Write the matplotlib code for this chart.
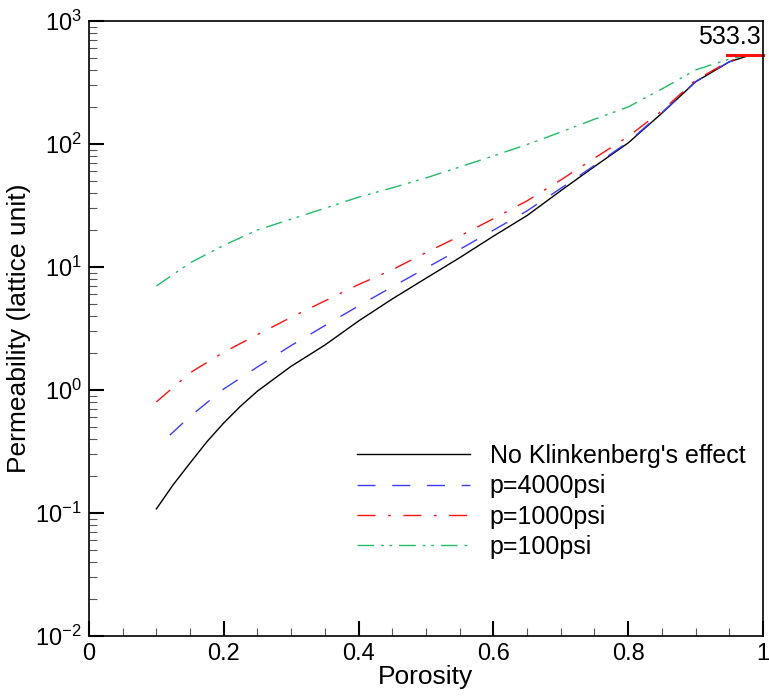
import matplotlib
matplotlib.use("Agg")
import matplotlib.pyplot as plt
from matplotlib.ticker import MultipleLocator, FuncFormatter, LogLocator
import numpy as np

plt.rcParams["font.family"] = ["Liberation Sans", "DejaVu Sans"]
plt.rcParams["mathtext.fontset"] = "custom"
plt.rcParams["mathtext.rm"] = "Liberation Sans"
plt.rcParams["mathtext.it"] = "Liberation Sans"

# porosity / permeability readings
por_none = [0.10, 0.125, 0.15, 0.175, 0.20, 0.225, 0.25, 0.30, 0.35, 0.40, 0.45, 0.50,
            0.55, 0.60, 0.65, 0.70, 0.75, 0.80, 0.85, 0.90, 0.95, 0.975, 1.00]
k_none = [0.108, 0.17, 0.255, 0.38, 0.54, 0.74, 0.98, 1.56, 2.32, 3.64, 5.5, 8.1,
          11.9, 17.8, 26.2, 41.7, 65.6, 102, 178, 320, 465, 515, 533.3]

por_4000 = [0.12, 0.15, 0.20, 0.25, 0.30, 0.35, 0.40, 0.45, 0.50, 0.55, 0.60,
            0.65, 0.70, 0.75, 0.80, 0.85, 0.90, 0.95, 0.975, 1.00]
k_4000 = [0.43, 0.61, 1.02, 1.54, 2.3, 3.34, 4.83, 6.9, 9.8, 13.9, 19.9,
          28.6, 43.6, 67, 104, 180, 322, 467, 516, 533.3]

por_1000 = [0.10, 0.15, 0.20, 0.25, 0.30, 0.35, 0.40, 0.45, 0.50, 0.55, 0.60,
            0.65, 0.70, 0.75, 0.80, 0.85, 0.90, 0.95, 0.975, 1.00]
k_1000 = [0.80, 1.38, 2.03, 2.82, 3.9, 5.3, 7.2, 9.5, 13.1, 17.8, 24.7,
          34.5, 51, 76.7, 115, 186, 330, 472, 518, 533.3]

por_100 = [0.10, 0.15, 0.20, 0.25, 0.30, 0.35, 0.40, 0.45, 0.50, 0.55, 0.60,
           0.65, 0.70, 0.75, 0.80, 0.85, 0.90, 0.95, 0.975, 1.00]
k_100 = [7.0, 10.8, 15.0, 20.0, 24.5, 30, 37, 44, 53, 65, 80,
         99, 125, 159, 200, 280, 400, 490, 525, 533.3]

k_max = 533.3

fig = plt.figure(figsize=(7.69, 6.99), dpi=100)
ax = fig.add_axes([0.1157, 0.0901, 0.8765, 0.8799])

ax.plot(por_none, k_none, color="black", lw=1.0, label="No Klinkenberg's effect")
ax.plot(por_4000, k_4000, color="#3c3cff", lw=1.0, linestyle=(0, (13, 12)),
        label="p=4000psi")
ax.plot(por_1000, k_1000, color="#ff1010", lw=1.0, linestyle=(0, (13, 9, 2, 9)),
        label="p=1000psi")
ax.plot(por_100, k_100, color="#22bb66", lw=1.0, linestyle=(0, (12, 5, 2, 4, 2, 5)),
        label="p=100psi")

ax.plot([0.947, 1.0], [k_max, k_max], color="#ff1010", lw=2.2, clip_on=False)
ax.annotate("533.3", xy=(0.997, k_max), xytext=(0, 4), textcoords="offset points",
            ha="right", va="bottom", fontsize=18)

ax.set_yscale("log")
ax.set_xlim(0, 1)
ax.set_ylim(1e-2, 1e3)
ax.xaxis.set_major_locator(MultipleLocator(0.2))
ax.xaxis.set_minor_locator(MultipleLocator(0.05))
ax.xaxis.set_major_formatter(FuncFormatter(lambda v, p: "%g" % round(v, 2)))
ax.yaxis.set_major_locator(LogLocator(base=10, numticks=10))
ax.yaxis.set_minor_locator(LogLocator(base=10, subs=np.arange(2, 10), numticks=10))
ax.yaxis.set_major_formatter(FuncFormatter(lambda v, p: r"$10^{%d}$" % round(np.log10(v))))

ax.tick_params(which="both", direction="in", top=False, right=False, labelsize=17, pad=5)
ax.tick_params(which="major", length=11, width=1.5)
ax.tick_params(which="minor", length=6, width=0.8, color="#555555")
for s in ax.spines.values():
    s.set_linewidth(1.2)

ax.set_xlabel("Porosity", fontsize=19, labelpad=0)
ax.set_ylabel("Permeability (lattice unit)", fontsize=19, labelpad=3)

ax.legend(loc="upper left", bbox_to_anchor=(0.398, 0.312), frameon=False, fontsize=18,
          handlelength=4.5, handletextpad=0.8, labelspacing=0.25, borderpad=0,
          borderaxespad=0)

fig.savefig("out.png", dpi=100)
